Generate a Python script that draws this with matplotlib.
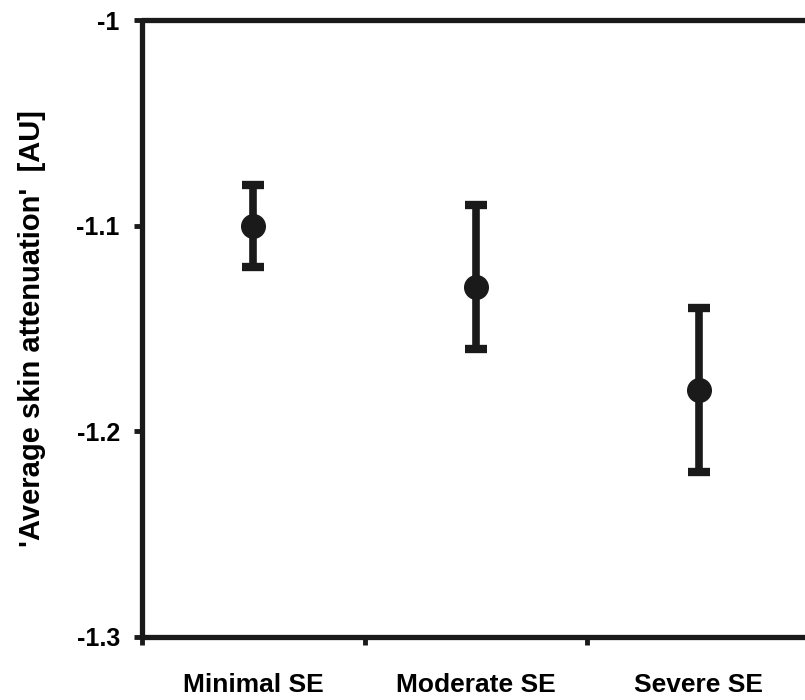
import numpy as np
import matplotlib.pyplot as plt

plt.rcParams['font.family'] = ['Liberation Sans', 'DejaVu Sans']
plt.rcParams['font.weight'] = 'bold'
plt.rcParams['axes.labelweight'] = 'bold'

# group means and error bar ends
groups = ['Minimal SE', 'Moderate SE', 'Severe SE']
means = [-1.10, -1.13, -1.18]
upper = [-1.08, -1.09, -1.14]
lower = [-1.12, -1.16, -1.22]

ink = '#1a1a1a'

fig = plt.figure(figsize=(8.05, 7.00), dpi=100)
ax = fig.add_axes([142 / 805, 1 - 637 / 700, (810 - 142) / 805, (637 - 20) / 700])

x = np.arange(len(groups))
m = np.array(means)
yerr = [m - np.array(lower), np.array(upper) - m]
ax.errorbar(x, m, yerr=yerr, fmt='o', color=ink, ms=17, elinewidth=5.5,
            capsize=8, capthick=6)

ax.set_xlim(-0.5, 2.5)
ax.set_ylim(-1.3, -1.0)
ax.set_yticks([-1.3, -1.2, -1.1, -1.0])
ax.set_yticklabels(['-1.3', '-1.2', '-1.1', '-1'])
ax.set_xticks([-0.5, 0.5, 1.5])
ax.set_xticklabels([])
ax.set_xticks(x, minor=True)
ax.set_xticklabels(groups, minor=True)
ax.tick_params(axis='x', which='minor', length=0, pad=26, labelsize=19)
ax.tick_params(axis='x', which='major', length=6, width=3.5, color=ink)
ax.tick_params(axis='y', length=6, width=3.5, color=ink, pad=10, labelsize=18)

for s in ['left', 'bottom', 'top']:
    ax.spines[s].set_linewidth(3.8)
    ax.spines[s].set_color(ink)
    ax.spines[s].set_capstyle('round')
ax.spines['right'].set_visible(False)

ax.set_ylabel("'Average skin attenuation'  [AU]", fontsize=21, labelpad=22)

fig.savefig('out.png', dpi=100)
